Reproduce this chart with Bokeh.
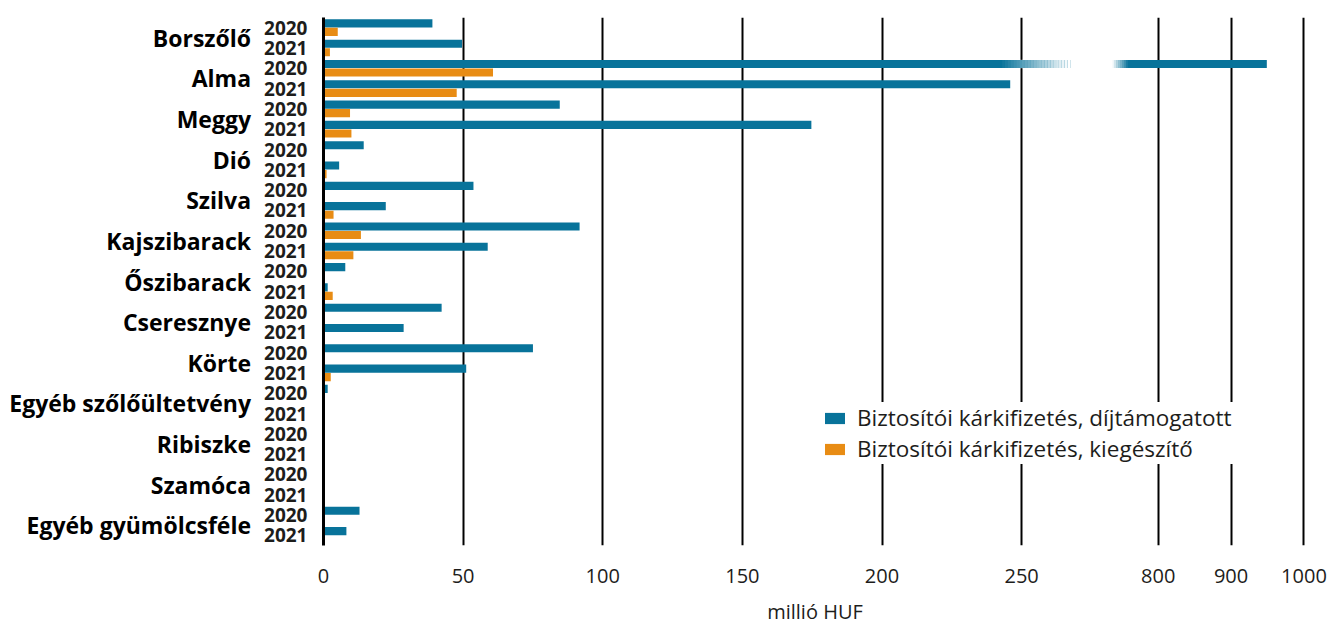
from bokeh.plotting import figure
from bokeh.models import (FactorRange, FixedTicker, Legend, LegendItem,
                          ColumnDataSource, Range1d)
from bokeh.transform import dodge
from bokeh.embed import file_html
from bokeh.resources import INLINE

# ---------------- data ----------------
categories = ["Borszőlő", "Alma", "Meggy", "Dió", "Szilva", "Kajszibarack",
              "Őszibarack", "Cseresznye", "Körte", "Egyéb szőlőültetvény",
              "Ribiszke", "Szamóca", "Egyéb gyümölcsféle"]
years = ["2020", "2021"]
dijtamogatott_2020 = [39.0, 949.0, 84.6, 14.4, 53.7, 91.7, 7.8, 42.3, 75.0, 1.5, 0, 0, 12.9]
dijtamogatott_2021 = [49.6, 245.9, 174.7, 5.6, 22.3, 58.8, 1.5, 28.7, 51.1, 0, 0, 0, 8.2]
kiegeszito_2020 = [5.1, 60.7, 9.5, 0, 0.5, 13.4, 0, 0, 0, 0, 0, 0, 0]
kiegeszito_2021 = [2.3, 47.7, 10.0, 1.1, 3.6, 10.7, 3.3, 0, 2.6, 0, 0, 0, 0]
tick_values = [0, 50, 100, 150, 200, 250, 800, 900, 1000]
series_names = ["Biztosítói kárkifizetés, díjtámogatott",
                "Biztosítói kárkifizetés, kiegészítő"]
x_title = "millió HUF"

BLUE = "#08739a"
ORANGE = "#e88c14"
TEXT = "#1d1d1b"

# ---------------- broken axis scale ----------------
BREAK_LO, BREAK_HI = 250, 800
HI_START = 298.9
HI_SCALE = 0.261


def to_display(v):
    return v if v <= BREAK_LO else HI_START + (v - BREAK_HI) * HI_SCALE


# ---------------- sources ----------------
factors, blue_vals, orange_vals = [], [], []
for i, c in enumerate(categories):
    for y, b, o in ((years[0], dijtamogatott_2020[i], kiegeszito_2020[i]),
                    (years[1], dijtamogatott_2021[i], kiegeszito_2021[i])):
        factors.append((c, y))
        blue_vals.append(b)
        orange_vals.append(o)

src = ColumnDataSource(dict(
    y=factors,
    blue=[to_display(v) for v in blue_vals],
    orange=[to_display(v) for v in orange_vals],
))

yr = FactorRange(*list(reversed(factors)), factor_padding=0, group_padding=0,
                 subgroup_padding=0, range_padding=0)

p = figure(frame_width=983, frame_height=528, y_range=yr, x_range=Range1d(0, 352),
           output_backend="svg", toolbar_location=None,
           min_border_left=323, min_border_right=24, min_border_top=17,
           min_border_bottom=20)
p.outline_line_color = None
p.background_fill_color = "white"
p.border_fill_color = "white"

blue_r = p.hbar(y=dodge("y", 0.21, range=p.y_range), left=0, right="blue",
                height=0.4, source=src, fill_color=BLUE, line_color=None)
orange_r = p.hbar(y=dodge("y", -0.21, range=p.y_range), left=0, right="orange",
                  height=0.4, source=src, fill_color=ORANGE, line_color=None)

# axis-break fade on bars that cross the break
long_factors = [f for f, v in zip(factors, blue_vals) if v > BREAK_LO]
fade_lo0, fade_lo1, gap_hi, fade_hi1 = 243.0, 267.4, 282.7, 288.1
n1 = 24
for f in long_factors:
    lefts, rights, alphas, ys = [], [], [], []
    for k in range(n1):
        a = fade_lo0 + (fade_lo1 - fade_lo0) * k / n1
        b = fade_lo0 + (fade_lo1 - fade_lo0) * (k + 1) / n1
        lefts.append(a); rights.append(b); alphas.append((k + 1) / n1); ys.append(f)
    lefts.append(fade_lo1); rights.append(gap_hi); alphas.append(1.0); ys.append(f)
    n2 = 8
    for k in range(n2):
        a = gap_hi + (fade_hi1 - gap_hi) * k / n2
        b = gap_hi + (fade_hi1 - gap_hi) * (k + 1) / n2
        lefts.append(a); rights.append(b); alphas.append(1 - (k + 0.5) / n2); ys.append(f)
    fs = ColumnDataSource(dict(y=ys, left=lefts, right=rights, alpha=alphas))
    p.hbar(y=dodge("y", 0.21, range=p.y_range), left="left", right="right",
           height=0.44, source=fs, fill_color="white", fill_alpha="alpha",
           line_color=None)

# ---------------- axes ----------------
disp_ticks = [to_display(v) for v in tick_values]
xax = p.xaxis[0]
xax.ticker = FixedTicker(ticks=disp_ticks)
xax.major_label_overrides = {t: str(v) for t, v in zip(disp_ticks, tick_values)}
xax.axis_line_color = None
xax.major_tick_line_color = None
xax.minor_tick_line_color = None
xax.major_label_text_font = "Open Sans"
xax.major_label_text_font_size = "20px"
xax.major_label_text_color = TEXT
xax.major_label_standoff = 17
xax.axis_label = x_title
xax.axis_label_text_font = "Open Sans"
xax.axis_label_text_font_size = "20px"
xax.axis_label_text_font_style = "normal"
xax.axis_label_text_color = TEXT
xax.axis_label_standoff = 12

yax = p.yaxis[0]
yax.axis_line_color = "black"
yax.axis_line_width = 3
yax.major_tick_line_color = None
yax.minor_tick_line_color = None
yax.major_label_text_font = "Open Sans"
yax.major_label_text_font_size = "19px"
yax.major_label_text_font_style = "bold"
yax.major_label_text_color = TEXT
yax.major_label_standoff = 10
yax.major_label_orientation = "horizontal"
yax.group_text_font = "Open Sans"
yax.group_text_font_size = "23px"
yax.group_text_font_style = "bold"
yax.group_text_color = "black"
yax.group_label_orientation = "horizontal"
yax.separator_line_color = None

p.xgrid.ticker = FixedTicker(ticks=disp_ticks[1:])
p.xgrid.grid_line_color = "black"
p.xgrid.grid_line_width = 2
p.ygrid.grid_line_color = None

legend = Legend(items=[LegendItem(label=series_names[0], renderers=[blue_r]),
                       LegendItem(label=series_names[1], renderers=[orange_r])],
                location=(499, 81))
legend.background_fill_color = "white"
legend.background_fill_alpha = 1
legend.border_line_color = None
legend.label_text_font = "Open Sans"
legend.label_text_font_size = "22.5px"
legend.label_text_color = TEXT
legend.label_width = 400
legend.glyph_width = 25
legend.glyph_height = 14
legend.label_standoff = 10
legend.spacing = -3
legend.padding = 20
legend.margin = 0
p.add_layout(legend)

open("out.html", "w").write(file_html(p, INLINE))
